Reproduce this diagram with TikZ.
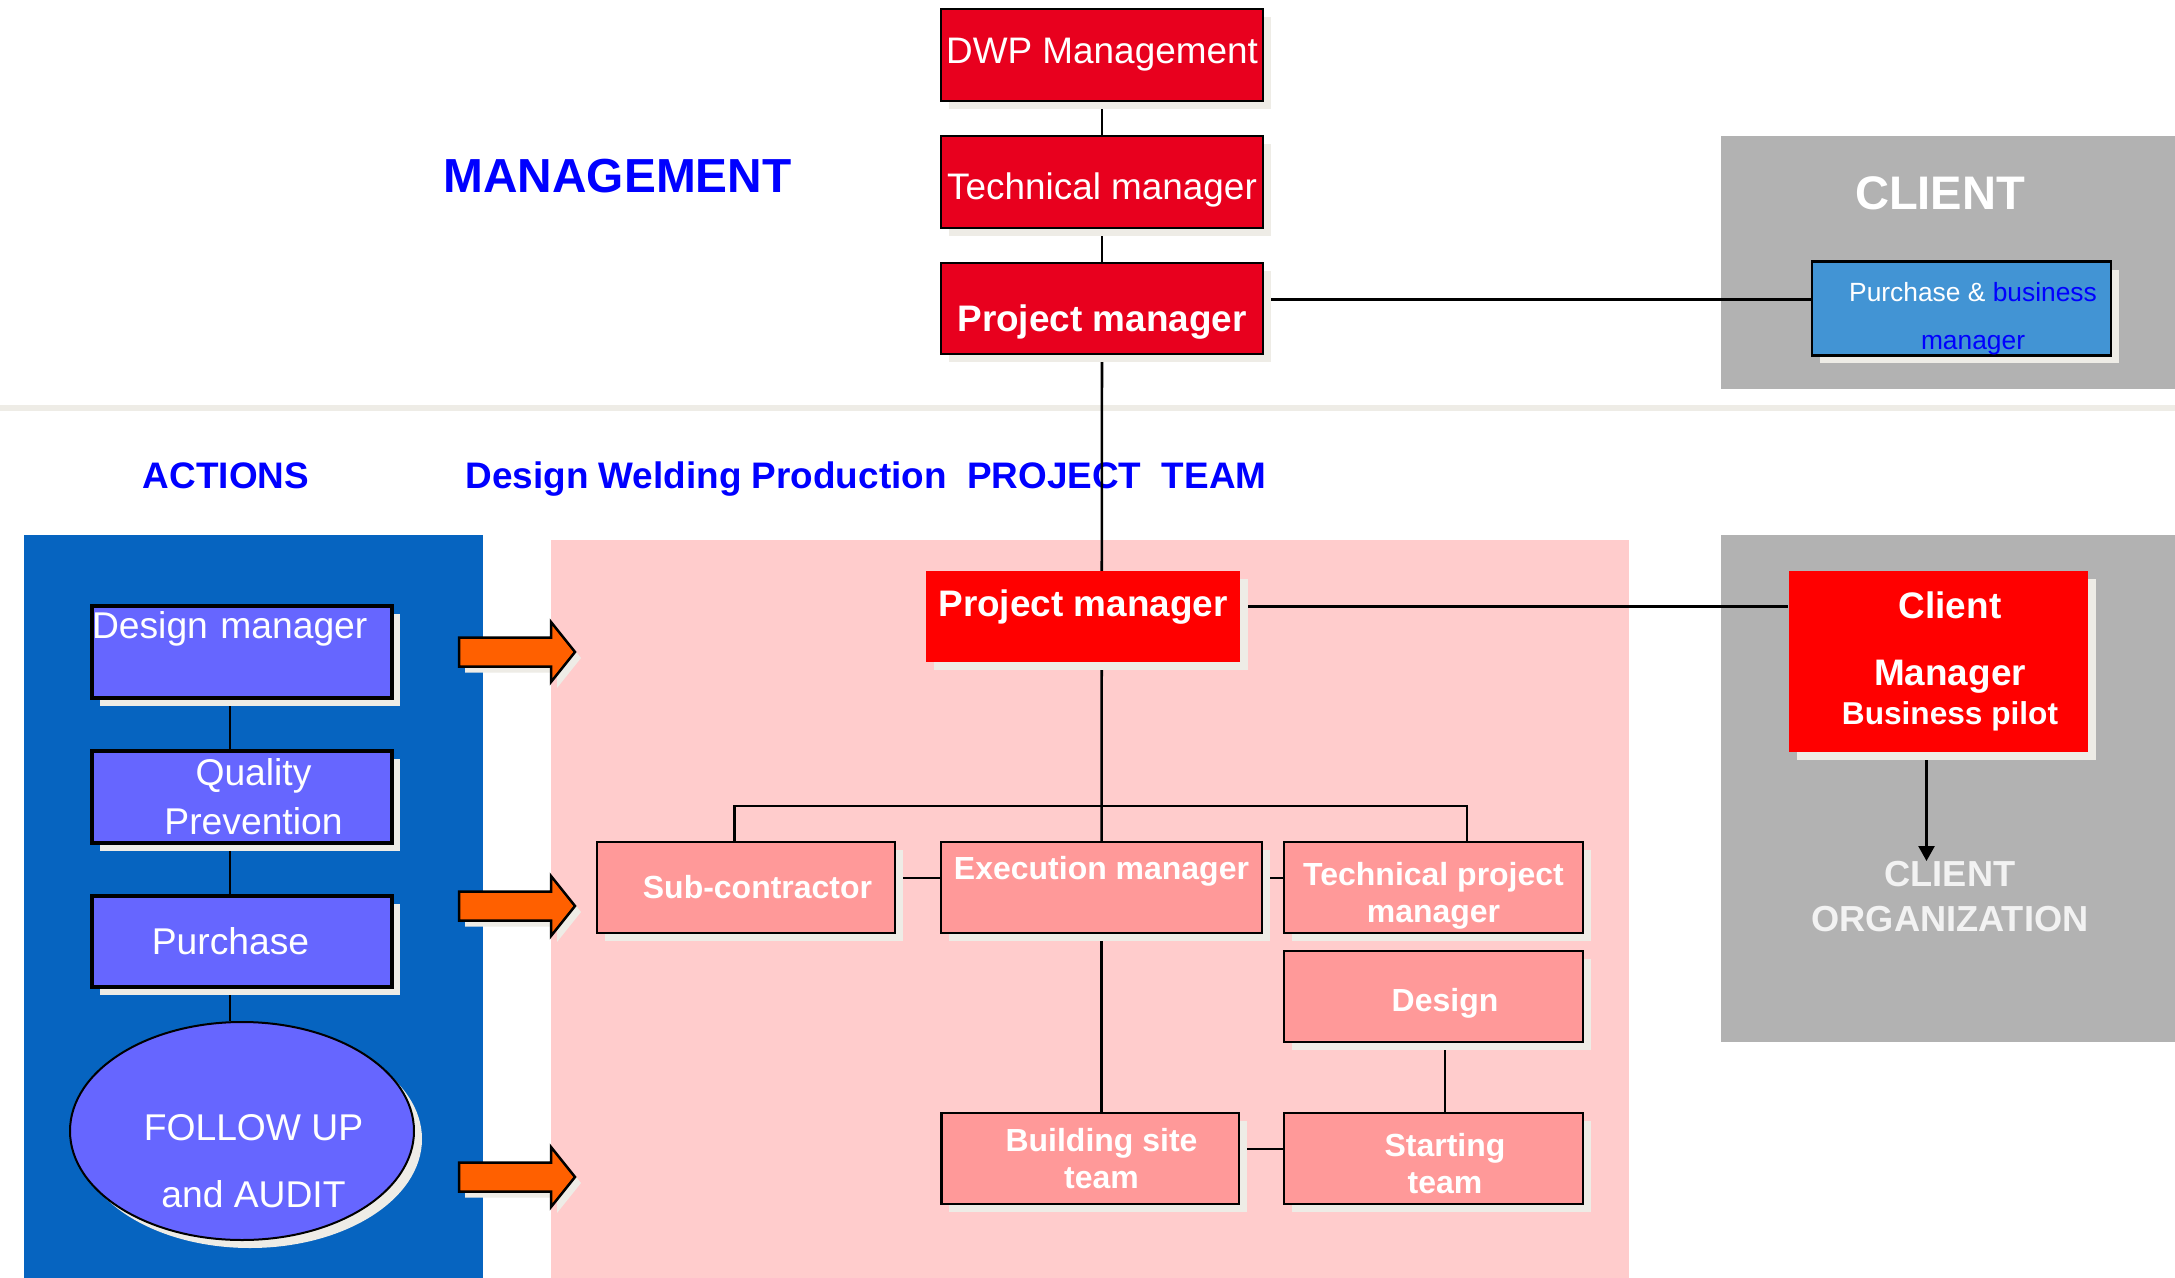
\documentclass[tikz,border=0pt]{standalone}
\usepackage{fontspec}
\setmainfont{Liberation Sans}
\usetikzlibrary{shapes.geometric,shadows,arrows.meta}
\definecolor{topred}{RGB}{232,0,30}
\definecolor{brightred}{RGB}{255,0,0}
\definecolor{salmon}{RGB}{255,153,153}
\definecolor{pinkarea}{RGB}{255,204,204}
\definecolor{actionblue}{RGB}{6,100,192}
\definecolor{actviolet}{RGB}{102,102,255}
\definecolor{clientgray}{RGB}{178,178,178}
\definecolor{buyerblue}{RGB}{66,148,212}
\definecolor{shadowgray}{RGB}{238,236,230}
\definecolor{arroworange}{RGB}{255,96,0}
\definecolor{orgwhite}{RGB}{242,242,242}
\newcommand\boxpad{\hspace*{2.3mm}}
\pgfdeclarelayer{back}
\pgfdeclarelayer{links}
\pgfsetlayers{back,links,main}

\begin{document}
\begin{tikzpicture}
[x = 0.1mm, y = -0.1mm, >={Triangle[width=1.6mm,length=1.5mm]},
 boxshadow/.style = {drop shadow = {shadow xshift = 0.8mm, shadow yshift = -0.8mm, fill = shadowgray, opacity = 1}},
 mgmt/.style = {draw, line width = 0.27mm, fill = topred, text = white, inner sep = 0pt, minimum width = 32.2mm, minimum height = 9.2mm, font = \fontsize{10.5}{12}\selectfont, boxshadow},
 pilot/.style = {fill = brightred, text = white, inner sep = 0pt, font = \bfseries\fontsize{10.5}{12}\selectfont, boxshadow},
 team/.style = {draw, line width = 0.25mm, fill = salmon, text = white, inner sep = 0pt, minimum height = 9.1mm, align = center, font = \bfseries\fontsize{9.1}{10.5}\selectfont, boxshadow},
 action/.style = {draw, line width = 0.33mm, fill = actviolet, text = white, inner sep = 0pt, minimum width = 30mm, minimum height = 9.2mm, align = center, font = \fontsize{10.6}{13.9}\selectfont, boxshadow},
 header/.style = {anchor = base, inner sep = 0pt, text = blue, font = \bfseries\fontsize{10.5}{12}\selectfont},
 link/.style = {line width = 0.26mm}]
\useasboundingbox (0,0) rectangle (2175,1278);
\begin{pgfonlayer}{back}
\fill[white] (0,0) rectangle (2175,1278);
\fill[shadowgray] (0,405) rectangle (2175,411);
\fill[clientgray] (1721,136) rectangle (2175,389);
\fill[actionblue] (24,535) rectangle (483,1278);
\fill[pinkarea] (551,540) rectangle (1629,1278);
\fill[clientgray] (1721,535) rectangle (2175,1042);
\node (mgmthead) at (617.5,193) [header, font = \bfseries\fontsize{13.6}{15}\selectfont] {MANAGEMENT};
\node (acthead) at (226,488) [header] {ACTIONS};
\node (teamhead) at (866,488) [header] {Design Welding Production\ \ PROJECT\ \ TEAM};
\node (clienthead) at (1940,193) [inner sep = 0pt, text = white, font = \bfseries\fontsize{13.4}{15}\selectfont] {CLIENT};
\node (corg) at (1950,861) [anchor = north, inner sep = 0pt, align = center, text = orgwhite, font = \bfseries\fontsize{10.3}{12.8}\selectfont] {CLIENT\\ORGANIZATION};
\end{pgfonlayer}
% orange arrows
\foreach \y in {652,906,1177}
{
\fill[shadowgray, shift = {(6,6)}] (459,\y-14.5) -- (551,\y-14.5) -- (551,\y-30) -- (575,\y) -- (551,\y+30) -- (551,\y+14.5) -- (459,\y+14.5) -- cycle;
\draw[line width = 0.25mm, fill = arroworange] (459,\y-14.5) -- (551,\y-14.5) -- (551,\y-30) -- (575,\y) -- (551,\y+30) -- (551,\y+14.5) -- (459,\y+14.5) -- cycle;
}
% management
\node (dwp) at (1102,55) [mgmt] {DWP Management};
\node (tech) at (1102,182) [mgmt, text height = 4.3mm] {Technical manager};
\node (pmtop) at (1102,308.5) [mgmt, minimum height = 9.1mm, font = \bfseries\fontsize{10.5}{12}\selectfont, text height = 5.3mm] {Project manager};
\node (pbm) at (1961.5,308.5) [draw, line width = 0.27mm, fill = buyerblue, text = white, inner sep = 0pt, minimum width = 29.9mm, minimum height = 9.1mm, align = center, font = \fontsize{7.5}{13.75}\selectfont, boxshadow] {\rule{0pt}{4mm}\boxpad Purchase \& \textcolor{blue}{business}\\\boxpad\textcolor{blue}{manager}};
% actions
\node (dm) at (242,652) [action, align = left, text width = 30mm, text depth = 5.3mm] {Design manager};
\node (qp) at (242,797) [action] {\boxpad Quality\\\boxpad Prevention};
\node (pur) at (242,941.5) [action, minimum height = 9.1mm] {Purchase\boxpad};
\node (fu) at (242,1131) [action, ellipse, line width = 0.2mm, minimum width = 34.4mm, minimum height = 21.8mm, font = \fontsize{10.6}{19.1}\selectfont] {\rule{0pt}{8.6mm}\boxpad FOLLOW UP\\\boxpad and AUDIT};
% project team
\node (pm) at (1083,616.5) [pilot, minimum width = 31.4mm, minimum height = 9.1mm, text depth = 2.7mm] {Project manager};
\node (client) at (1938.5,661.5) [pilot, minimum width = 29.9mm, minimum height = 18.1mm, align = center, font = \bfseries\fontsize{10.5}{11.1}\selectfont] {\boxpad Client\\[8pt]\boxpad Manager\\{\fontsize{9}{11.1}\selectfont\boxpad Business pilot}};
\node (sub) at (746,887.5) [team, minimum width = 29.8mm] {\boxpad Sub-contractor};
\node (exec) at (1101.5,887.5) [team, minimum width = 32.1mm, text depth = 3.9mm] {Execution manager};
\node (tpm) at (1433.5,887.5) [team, minimum width = 29.9mm] {\rule{0pt}{3.9mm}Technical project\\manager};
\node (design) at (1433.5,996.5) [team, minimum width = 29.9mm, text height = 3.7mm] {\boxpad Design};
\node (build) at (1090,1158.5) [team, minimum width = 29.75mm] {\boxpad Building site\\\boxpad team};
\node (start) at (1433.5,1158.5) [team, minimum width = 29.9mm] {\rule{0pt}{3.4mm}\boxpad Starting\\\boxpad team};
\begin{pgfonlayer}{links}
\draw[link] (dwp) -- (tech);
\draw[link] (tech) -- (pmtop);
\draw[link] (pmtop) -- (exec);
\draw[link] ([yshift = 0.9mm]pmtop.east) -- ([yshift = 0.9mm]pbm.west);
\draw[link] ([yshift = 1mm]pm.east) -- ([yshift = 1mm]pm.east -| client.west);
\coordinate (busL) at (734.5,806);
\coordinate (busR) at (1467,806);
\draw[link] (busL |- sub.north) -- (busL) -- (busR) -- (busR |- tpm.north);
\draw[link] ([yshift = 0.95mm]sub.east) -- ([yshift = 0.95mm]exec.west);
\draw[link] ([yshift = 0.95mm]exec.east) -- ([yshift = 0.95mm]tpm.west);
\draw[link] (exec.south) -- (exec.south |- build.north);
\draw[link] ([xshift = 1.15mm]design.south) -- ([xshift = 1.15mm]start.north);
\draw[link] ([yshift = 0.95mm]build.east) -- ([yshift = 0.95mm]start.west);
\draw[link] ([xshift = -1.2mm]dm.south) -- ([xshift = -1.2mm]qp.north);
\draw[link] ([xshift = -1.2mm]qp.south) -- ([xshift = -1.2mm]pur.north);
\draw[link] ([xshift = -1.2mm]pur.south) -- ([xshift = -1.2mm]pur.south |- fu.north);
\draw[link, ->] ([xshift = -1.2mm]client.south) -- ([xshift = -1.2mm]client.south |- corg.north);
\end{pgfonlayer}
\end{tikzpicture}
\end{document}
